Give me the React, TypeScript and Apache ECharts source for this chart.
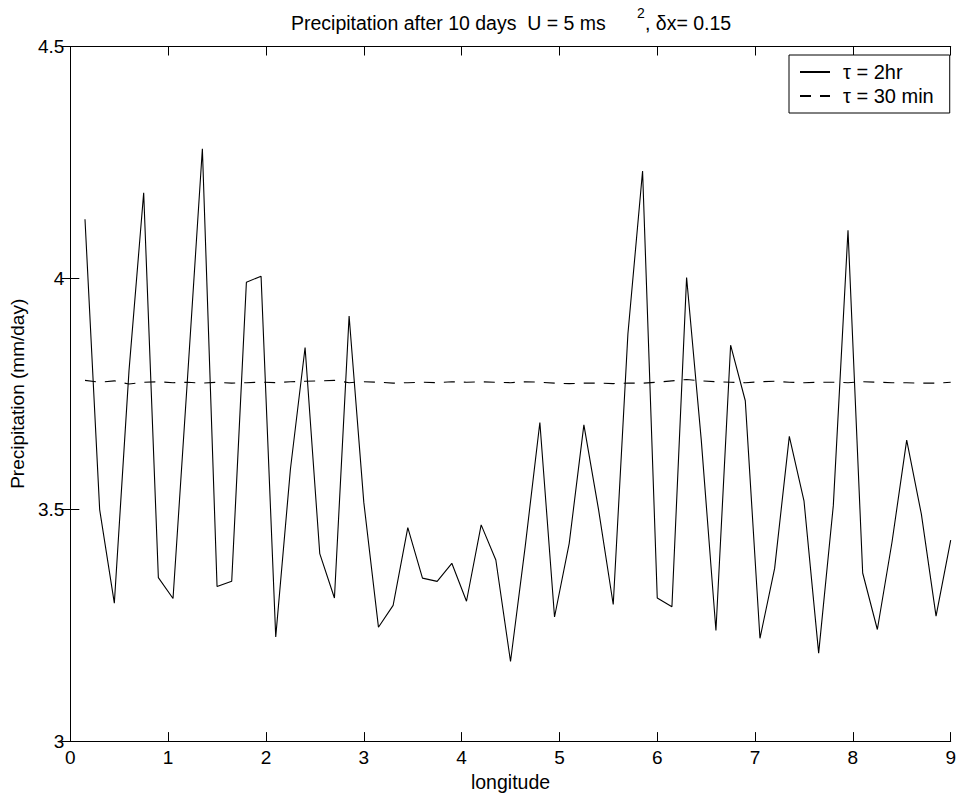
import React, { useEffect, useRef } from "react";
import * as echarts from "echarts";

const longitude = [
  0.15, 0.3, 0.45, 0.6, 0.75, 0.9, 1.05, 1.2, 1.35, 1.5,
  1.65, 1.8, 1.95, 2.1, 2.25, 2.4, 2.55, 2.7, 2.85, 3.0,
  3.15, 3.3, 3.45, 3.6, 3.75, 3.9, 4.05, 4.2, 4.35, 4.5,
  4.65, 4.8, 4.95, 5.1, 5.25, 5.4, 5.55, 5.7, 5.85, 6.0,
  6.15, 6.3, 6.45, 6.6, 6.75, 6.9, 7.05, 7.2, 7.35, 7.5,
  7.65, 7.8, 7.95, 8.1, 8.25, 8.4, 8.55, 8.7, 8.85, 9.0,
];

const tau2hr = [
  4.127, 3.5, 3.298, 3.8, 4.184, 3.353, 3.308, 3.79, 4.279, 3.334,
  3.345, 3.991, 4.004, 3.225, 3.587, 3.85, 3.405, 3.309, 3.918, 3.516,
  3.246, 3.293, 3.461, 3.352, 3.345, 3.384, 3.302, 3.467, 3.391, 3.172,
  3.42, 3.688, 3.268, 3.427, 3.683, 3.5, 3.295, 3.879, 4.231, 3.309,
  3.29, 4.001, 3.65, 3.239, 3.855, 3.735, 3.222, 3.373, 3.658, 3.519,
  3.19, 3.509, 4.103, 3.363, 3.241, 3.43, 3.65, 3.49, 3.27, 3.434,
];

const tau30min = [
  3.779, 3.775, 3.778, 3.771, 3.775, 3.776, 3.774, 3.775, 3.773, 3.775,
  3.773, 3.774, 3.775, 3.774, 3.776, 3.777, 3.778, 3.779, 3.774, 3.776,
  3.775, 3.773, 3.774, 3.775, 3.774, 3.776, 3.775, 3.776, 3.775, 3.774,
  3.776, 3.775, 3.773, 3.772, 3.773, 3.773, 3.772, 3.773, 3.773, 3.775,
  3.778, 3.781, 3.778, 3.776, 3.775, 3.774, 3.776, 3.777, 3.775, 3.774,
  3.775, 3.775, 3.774, 3.776, 3.775, 3.774, 3.774, 3.773, 3.773, 3.775,
];

const yTicks = ["3", "3.5", "4", "4.5"];
const seriesNames = ["\u03c4 = 2hr", "\u03c4 = 30 min"];

const FONT = "'Liberation Sans', Arial, Helvetica, sans-serif";

export default function App() {
  const ref = useRef<HTMLDivElement>(null);
  useEffect(() => {
    if (!ref.current) return;
    const chart = echarts.init(ref.current, undefined, { renderer: "svg" });
    const axisCommon = {
      axisLine: { show: true, lineStyle: { color: "#000", width: 1 } },
      axisTick: { show: true, inside: true, length: 9, lineStyle: { color: "#000" } },
      splitLine: { show: false },
    };
    chart.setOption({
      animation: false,
      backgroundColor: "#fff",
      grid: { left: 69, right: 4, top: 46.5, bottom: 50, containLabel: false },
      graphic: [
        {
          type: "text",
          left: 291,
          top: 13,
          style: { text: "Precipitation after 10 days  U = 5 ms", font: `19.5px ${FONT}`, fill: "#000" },
        },
        {
          type: "text",
          left: 637,
          top: 6,
          style: { text: "2", font: `14px ${FONT}`, fill: "#000" },
        },
        {
          type: "text",
          left: 645,
          top: 13,
          style: { text: ", \u03b4x= 0.15", font: `19.5px ${FONT}`, fill: "#000" },
        },
      ],
      legend: {
        left: 789,
        top: 55,
        orient: "vertical",
        data: seriesNames,
        itemWidth: 30,
        itemHeight: 24,
        itemGap: 0,
        padding: [5, 16, 5, 10],
        borderColor: "#000",
        borderWidth: 1,
        borderRadius: 0,
        backgroundColor: "#fff",
        itemStyle: { opacity: 0 },
        textStyle: { fontFamily: FONT, fontSize: 20, lineHeight: 24, color: "#000", padding: [0, 0, 0, 8] },
      },
      xAxis: [
        {
          type: "value",
          min: 0,
          max: 9,
          interval: 1,
          position: "bottom",
          name: "longitude",
          nameLocation: "middle",
          nameGap: 30,
          nameTextStyle: { fontFamily: FONT, fontSize: 19.5, color: "#000" },
          axisLabel: { margin: 7, fontFamily: FONT, fontSize: 19, color: "#000" },
          ...axisCommon,
        },
        {
          type: "value",
          min: 0,
          max: 9,
          interval: 1,
          position: "top",
          axisLabel: { show: false },
          ...axisCommon,
        },
      ],
      yAxis: [
        {
          type: "value",
          min: 3,
          max: 4.5,
          interval: 0.5,
          position: "left",
          name: "Precipitation (mm/day)",
          nameLocation: "middle",
          nameGap: 37,
          nameTextStyle: { fontFamily: FONT, fontSize: 19, color: "#000" },
          axisLabel: {
            margin: 6,
            fontFamily: FONT,
            fontSize: 19,
            color: "#000",
            formatter: (v: number) => yTicks[Math.round((v - 3) / 0.5)] ?? String(v),
          },
          ...axisCommon,
        },
        {
          type: "value",
          min: 3,
          max: 4.5,
          interval: 0.5,
          position: "right",
          axisLabel: { show: false },
          ...axisCommon,
        },
      ],
      series: [
        {
          name: seriesNames[0],
          type: "line",
          symbol: "none",
          data: longitude.map((x, i) => [x, tau2hr[i]]),
          lineStyle: { color: "#000", width: 1.1, type: "solid" },
          itemStyle: { color: "#000" },
        },
        {
          name: seriesNames[1],
          type: "line",
          symbol: "none",
          data: longitude.map((x, i) => [x, tau30min[i]]),
          lineStyle: { color: "#000", width: 1.1, type: [11, 9] },
          itemStyle: { color: "#000" },
        },
      ],
    });
    return () => chart.dispose();
  }, []);
  return (
    <div
      ref={ref}
      style={{ position: "absolute", left: 0, top: 0, width: 959, height: 797 }}
    />
  );
}
